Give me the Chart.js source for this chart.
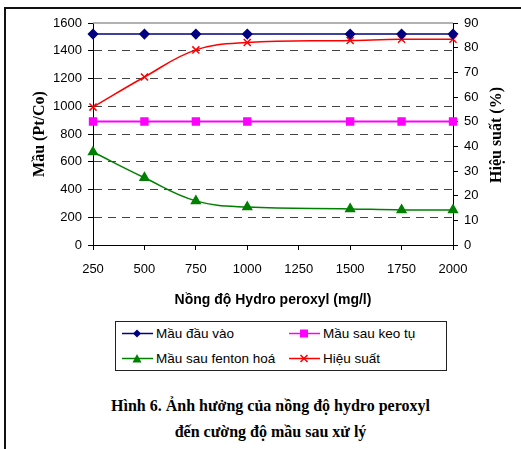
<!DOCTYPE html>
<html>
<head>
<meta charset="utf-8">
<script src="https://cdn.jsdelivr.net/npm/chart.js@4/dist/chart.umd.min.js"></script>
<style>
  html, body { margin: 0; padding: 0; background: #fff; }
  body { width: 521px; height: 449px; position: relative; overflow: hidden; }
  #frame {
    position: absolute; left: 4px; top: 7px; right: -4px; bottom: -4px;
    border-left: 2px solid #111; border-top: 2px solid #111;
  }
  #chart { position: absolute; left: 0; top: 0; }
  #legend {
    position: absolute; left: 115px; top: 321px; width: 332px; height: 50px;
    border: 1px solid #222; box-sizing: border-box;
    font-family: "Liberation Sans", Arial, sans-serif; font-size: 13.5px; color: #000;
  }
  .item { position: absolute; height: 16px; line-height: 16px; white-space: nowrap; }
  .item svg { position: absolute; left: 0; top: 3px; }
  .item span { position: absolute; left: 34px; top: 0; }
  .caption {
    position: absolute; left: 0; width: 541px; text-align: center;
    font-family: "Liberation Serif", "Times New Roman", serif; font-weight: bold;
    font-size: 16px; color: #000;
  }
</style>
</head>
<body>
<div id="frame"></div>
<canvas id="chart" width="521" height="310"></canvas>
<div id="legend"></div>
<div class="caption" style="top:397px">Hình 6. Ảnh hưởng của nồng độ hydro peroxyl</div>
<div class="caption" style="top:423px">đến cường độ mầu sau xử lý</div>
<script>
(function () {
  'use strict';

  // ── Data ─────────────────────────────────────────────────────────────
  var doses = [250, 500, 750, 1000, 1500, 1750, 2000];
  var xTicks = [250, 500, 750, 1000, 1250, 1500, 1750, 2000];
  var mauDauVao = [1520, 1520, 1520, 1520, 1520, 1520, 1520];
  var mauSauKeoTu = [890, 890, 890, 890, 890, 890, 890];
  var mauSauFenton = [670, 485, 318, 273, 260, 253, 253];
  var hieuSuat = [55.9, 68.1, 79.1, 82.1, 82.9, 83.4, 83.4];

  var labels = ['Mầu đầu vào', 'Mầu sau keo tụ', 'Mầu sau fenton hoá', 'Hiệu suất'];
  var colors = ['#000080', '#ff00ff', '#008000', '#ff0000'];

  function pts(arr) {
    return arr.map(function (v, i) { return { x: doses[i], y: v }; });
  }

  var tickFont = { family: '"Liberation Sans", Arial, sans-serif', size: 13 };

  // extra drawing: grey top border + right axis title reading bottom-to-top
  var decor = {
    id: 'decor',
    beforeDatasetsDraw: function (chart) {
      var a = chart.chartArea, c = chart.ctx;
      c.save();
      c.strokeStyle = '#999';
      c.lineWidth = 1.5;
      c.beginPath();
      c.moveTo(a.left, a.top);
      c.lineTo(a.right, a.top);
      c.stroke();
      c.restore();
    },
    afterDraw: function (chart) {
      var a = chart.chartArea, c = chart.ctx;
      c.save();
      c.translate(497, (a.top + a.bottom) / 2 + 1);
      c.rotate(-Math.PI / 2);
      c.font = 'bold 16px "Liberation Serif", "Times New Roman", serif';
      c.fillStyle = '#000';
      c.textAlign = 'center';
      c.textBaseline = 'middle';
      c.fillText('Hiệu suất (%)', 0, 0);
      c.restore();
    }
  };

  var ctx = document.getElementById('chart').getContext('2d');

  new Chart(ctx, {
    type: 'line',
    data: {
      datasets: [
        {
          label: labels[0], data: pts(mauDauVao), yAxisID: 'y',
          borderColor: colors[0], backgroundColor: colors[0], borderWidth: 1.5,
          pointStyle: 'rectRot', pointRadius: 4.5, tension: 0.4, clip: false
        },
        {
          label: labels[1], data: pts(mauSauKeoTu), yAxisID: 'y',
          borderColor: colors[1], backgroundColor: colors[1], borderWidth: 2,
          pointStyle: 'rect', pointRadius: 4.5, tension: 0.4, clip: false
        },
        {
          label: labels[2], data: pts(mauSauFenton), yAxisID: 'y',
          borderColor: colors[2], backgroundColor: colors[2], borderWidth: 1.5,
          pointStyle: 'triangle', pointRadius: 5, tension: 0.4, clip: false
        },
        {
          label: labels[3], data: pts(hieuSuat), yAxisID: 'y1',
          borderColor: colors[3], backgroundColor: colors[3], borderWidth: 1.5,
          pointStyle: 'crossRot', pointRadius: 5, pointBorderWidth: 1.5,
          tension: 0.4, clip: false
        }
      ]
    },
    options: {
      responsive: false,
      animation: false,
      layout: { padding: { top: 23, left: 0, right: 0, bottom: 0 } },
      plugins: { legend: { display: false }, tooltip: { enabled: false } },
      scales: {
        x: {
          type: 'linear', min: 250, max: 2000,
          afterBuildTicks: function (s) { s.ticks = xTicks.map(function (v) { return { value: v }; }); },
          afterFit: function (s) { s.height = 65; },
          ticks: { color: '#000', font: tickFont, padding: 12, maxRotation: 0,
                   callback: function (v) { return String(v); } },
          grid: { drawOnChartArea: false, tickLength: 5, tickColor: '#000' },
          border: { color: '#000', width: 1 },
          title: {
            display: true, text: 'Nồng độ Hydro peroxyl (mg/l)', color: '#000',
            font: { family: '"Liberation Sans", Arial, sans-serif', size: 14, weight: 'bold' },
            padding: { top: 0, bottom: 1 }
          }
        },
        y: {
          position: 'left', min: 0, max: 1600,
          afterFit: function (s) { s.width = 93; },
          ticks: { stepSize: 200, color: '#000', font: tickFont, padding: 6,
                   callback: function (v) { return String(v); } },
          grid: {
            color: function (c) { return (c.tick.value === 0 || c.tick.value === 1600) ? 'rgba(0,0,0,0)' : '#444'; },
            lineWidth: 1, tickLength: 5, tickColor: '#000', tickBorderDash: []
          },
          border: { color: '#000', width: 1, dash: [8, 6] },
          title: {
            display: true, text: 'Mầu (Pt/Co)', color: '#000',
            font: { family: '"Liberation Serif", "Times New Roman", serif', size: 16, weight: 'bold' },
            padding: { top: 30, bottom: 0 }
          }
        },
        y1: {
          position: 'right', min: 0, max: 90,
          afterFit: function (s) { s.width = 68; },
          ticks: { stepSize: 10, color: '#000', font: tickFont, padding: 6 },
          grid: { drawOnChartArea: false, tickLength: 5, tickColor: '#000' },
          border: { color: '#000', width: 1 }
        }
      }
    },
    plugins: [decor]
  });

  // ── HTML legend (boxed, two columns) ─────────────────────────────────
  var markers = [
    '<polygon points="15,0.5 19,4.5 15,8.5 11,4.5" fill="' + colors[0] + '"/>',
    '<rect x="11" y="0.5" width="8" height="8" fill="' + colors[1] + '"/>',
    '<polygon points="15,0 19.5,8.5 10.5,8.5" fill="' + colors[2] + '"/>',
    '<path d="M11.5,1 L18.5,8 M18.5,1 L11.5,8" stroke="' + colors[3] + '" stroke-width="1.5"/>'
  ];
  var pos = [[6, 4], [173, 4], [6, 29], [173, 29]];
  var html = '';
  for (var i = 0; i < labels.length; i++) {
    html += '<div class="item" style="left:' + pos[i][0] + 'px;top:' + pos[i][1] + 'px">' +
      '<svg width="31" height="10"><line x1="0" y1="4.5" x2="31" y2="4.5" stroke="' + colors[i] +
      '" stroke-width="1.5"/>' + markers[i] + '</svg><span>' + labels[i] + '</span></div>';
  }
  document.getElementById('legend').innerHTML = html;
})();
</script>
</body>
</html>
